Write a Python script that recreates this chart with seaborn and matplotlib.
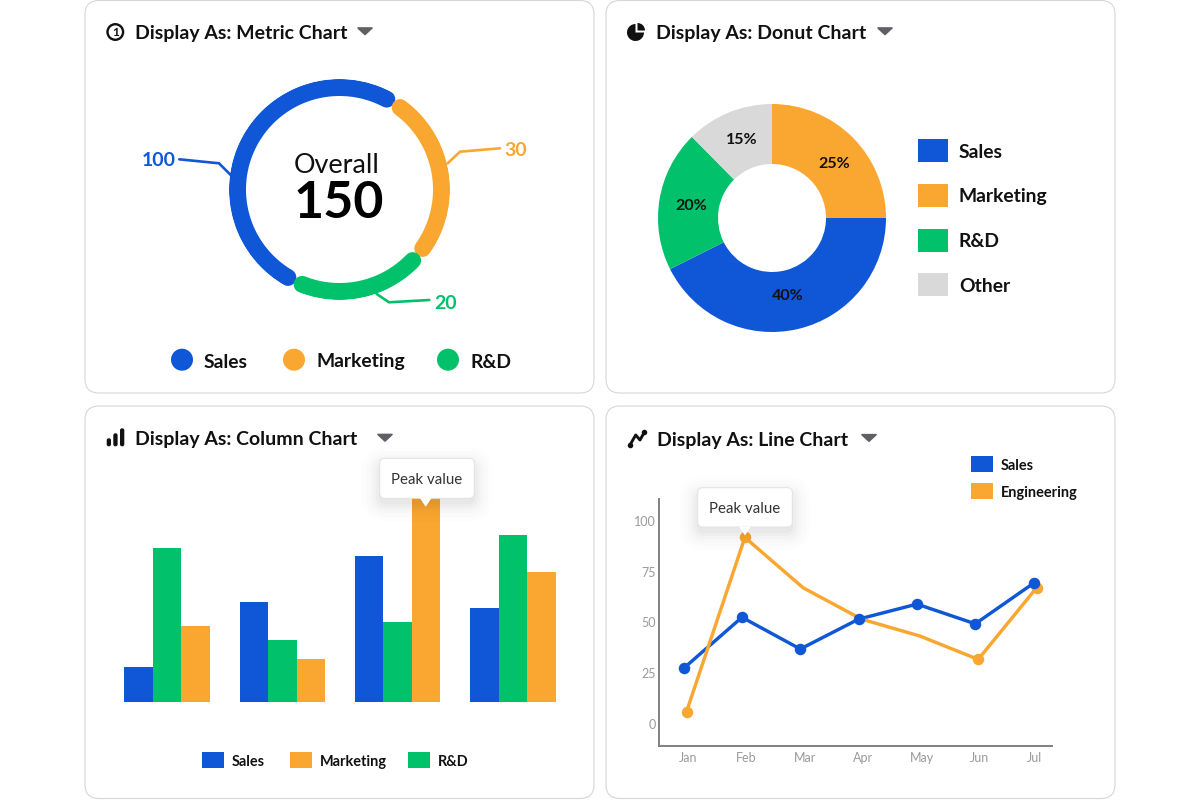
import numpy as np
import pandas as pd
import seaborn as sns
import matplotlib.pyplot as plt
from matplotlib.patches import FancyBboxPatch, Polygon, Rectangle, Circle, Wedge

W, H = 1200, 800
BLUE = "#0F57D6"
ORANGE = "#FAA731"
GREEN = "#02C16B"
GREY = "#D9D9D9"
INK = "#111111"

# metric ring
ring_names = ["Sales", "Marketing", "R&D"]
ring_values = [100, 30, 20]
ring_sweep = [177.2, 88.8, 67.3]

# donut
donut_names = ["Marketing", "Sales", "R&D", "Other"]
donut_slices = [25, 42.6, 20, 12.4]
donut_pct = [25, 40, 20, 15]
legend_names = ["Sales", "Marketing", "R&D", "Other"]

# columns
col_groups = ["A", "B", "C", "D"]
col_sales = [17.0, 47.6, 69.8, 44.9]
col_rd = [73.3, 29.7, 38.4, 79.7]
col_marketing = [36.3, 20.6, 100.0, 61.9]

# lines
months = ["Jan", "Feb", "Mar", "Apr", "May", "Jun", "Jul"]
line_sales = [27.4, 52.5, 36.9, 51.6, 59.0, 49.3, 69.3]
line_eng = [6.1, 91.8, 67.0, 51.6, 43.3, 31.8, 67.0]
y_ticks = [0, 25, 50, 75, 100]

sns.set_theme(style="white")
plt.rcParams["font.family"] = ["Lato", "DejaVu Sans"]

fig = plt.figure(figsize=(12, 8), dpi=100, facecolor="white")


def px_axes(l, t, r, b, **kw):
    return fig.add_axes([l / W, 1 - b / H, (r - l) / W, (b - t) / H], **kw)


def overlay(z):
    ax = fig.add_axes([0, 0, 1, 1], zorder=z)
    ax.set_xlim(0, W)
    ax.set_ylim(H, 0)
    ax.axis("off")
    ax.patch.set_alpha(0)
    return ax


def px(size):
    # font size in pixels to points
    return size * 0.72


bg = overlay(0)
fg = overlay(10)


def label(x, y, txt, size, **kw):
    # Lato sits a bit high with va=center
    kw.setdefault("color", INK)
    kw.setdefault("va", "center")
    fg.text(x, y + 1.5, txt, fontsize=px(size), **kw)


# cards
for l, t in [(85, 0.5), (606, 0.5), (85, 406), (606, 406)]:
    bg.add_patch(FancyBboxPatch((l, t), 509, 392.5, boxstyle="round,pad=0,rounding_size=14",
                                fc="white", ec="#D6D6D6", lw=0.8))

# headers
titles = [
    ("Display As: Metric Chart", 135, 32, 357),
    ("Display As: Donut Chart", 656, 32, 877),
    ("Display As: Column Chart", 135, 438.5, 377),
    ("Display As: Line Chart", 657, 438.7, 861),
]
for txt, x, y, tri in titles:
    label(x, y, txt, 19.5, fontweight="bold", ha="left")
    dy = y - 0.5
    fg.add_patch(Polygon([(tri + 1, dy - 3.5), (tri + 15, dy - 3.5), (tri + 8, dy + 3)], closed=True,
                         fc="#5F5F66", ec="#5F5F66", lw=1.2, joinstyle="round"))

# header icons
fg.add_patch(Circle((115.3, 32), 7.8, fc="white", ec=INK, lw=1.7))
fg.text(115.3, 32.5, "1", fontsize=px(12), fontweight="bold", color=INK, ha="center", va="center")
fg.add_patch(Wedge((635.5, 32.5), 8.5, 0, 270, fc=INK, ec="none"))
fg.add_patch(Wedge((637.5, 30.5), 7.5, 270, 360, fc=INK, ec="none"))
for x, top in [(106.7, 438.3), (113.3, 433.3), (120, 428.3)]:
    fg.add_patch(FancyBboxPatch((x, top), 4.3, 446.3 - top, boxstyle="round,pad=0,rounding_size=2",
                                fc=INK, ec="none"))
fg.plot([630, 635.7, 640, 644.3], [445, 435, 440, 432.3], color=INK, lw=2.1, solid_capstyle="round")
fg.scatter([630, 644.3], [445, 432.3], s=16, color=INK, lw=0)

# metric ring
ring_colors = [BLUE, ORANGE, GREEN]
ax_ring = px_axes(229, 79, 450, 300, projection="polar")
ax_ring.set_theta_zero_location("N")
ax_ring.set_theta_direction(-1)
start = 210.4
gap = 8.9
for sweep, c in zip(ring_sweep, ring_colors):
    th = np.radians(np.linspace(start, start + sweep, 120))
    ax_ring.plot(th, np.full(120, 102.0), color=c, lw=px(17), solid_capstyle="round")
    start += sweep + gap
ax_ring.set_rlim(0, 110.5)
ax_ring.axis("off")
ax_ring.patch.set_alpha(0)

label(337, 164, "Overall", 27, ha="center")
label(338.6, 201.5, "150", 52, fontweight="bold", color="black", ha="center")

leaders = [
    ([179.3, 219, 230.7], [159.3, 163.3, 175], (158.3, 159.3)),
    ([500, 460, 447.7], [148.3, 151.7, 163.3], (516, 148.7)),
    ([429.3, 389, 376.7], [300, 302.3, 294], (445.7, 301.7)),
]
for (lx, ly, pos), c, v in zip(leaders, ring_colors, ring_values):
    fg.plot(lx, ly, color=c, lw=1.9, solid_joinstyle="miter")
    label(pos[0], pos[1], str(v), 19.5, color=c, fontweight="bold", ha="center")

for cx, tx, name, c in zip([182, 294, 448], [204, 316.7, 470.7], ring_names, ring_colors):
    bg.add_patch(Circle((cx, 359.7), 11, fc=c, ec="none"))
    label(tx, 360.5, name, 19.3, fontweight="bold")

# donut
donut_colors = [ORANGE, BLUE, GREEN, GREY]
ax_donut = px_axes(658, 104, 886, 332)
ax_donut.pie(donut_slices, colors=donut_colors, startangle=90, counterclock=False,
             wedgeprops={"width": 60 / 114, "linewidth": 0})
ax_donut.set_xlim(-1, 1)
ax_donut.set_ylim(-1, 1)
for (x, y), v in zip([(834, 163), (788, 294), (691, 204), (742, 139)], donut_pct):
    label(x, y, f"{v}%", 16, fontweight="bold", ha="center")
for i, (name, c) in enumerate(zip(legend_names, [BLUE, ORANGE, GREEN, GREY])):
    yc = 150.5 + i * 44.8
    bg.add_patch(Rectangle((918, yc - 11.5), 30, 23, fc=c, ec="none"))
    label(959, yc, name, 19.3, fontweight="bold")

# columns
col_df = pd.DataFrame({
    "group": col_groups * 3,
    "dept": ["Sales"] * 4 + ["R&D"] * 4 + ["Marketing"] * 4,
    "value": col_sales + col_rd + col_marketing,
})
ax_col = px_axes(109.5, 492.3, 570.6, 702.3)
sns.barplot(data=col_df, x="group", y="value", hue="dept", hue_order=["Sales", "R&D", "Marketing"],
            palette={"Sales": BLUE, "R&D": GREEN, "Marketing": ORANGE}, width=0.7415, gap=0,
            saturation=1, legend=False, linewidth=0, ax=ax_col)
ax_col.set_xlim(-0.5, 3.5)
ax_col.set_ylim(0, 100)
ax_col.axis("off")
ax_col.patch.set_alpha(0)
for sx, tx, name, c in zip([202.3, 290.3, 408.3], [232, 320.3, 438.3], ["Sales", "Marketing", "R&D"],
                           [BLUE, ORANGE, GREEN]):
    bg.add_patch(Rectangle((sx, 752), 21.7, 16.3, fc=c, ec="none"))
    label(tx, 760.5, name, 14.5, fontweight="bold")

# lines
ax_line = px_axes(659.3, 499, 1051.7, 746)
idx = np.arange(len(months))
sns.lineplot(x=idx - 0.08, y=line_sales, color=BLUE, lw=px(3.4), errorbar=None, ax=ax_line, zorder=2)
sns.lineplot(x=idx - 0.03, y=line_eng, color=ORANGE, lw=px(3.4), errorbar=None, marker="o", markersize=px(11.5),
             markeredgewidth=0, markevery=[0, 1, 5, 6], ax=ax_line, zorder=3)
sns.scatterplot(x=idx - 0.08, y=line_sales, color=BLUE, s=px(11.5) ** 2, linewidth=0, ax=ax_line, zorder=4)
ax_line.set_xlim(-0.497, 6.23)
ax_line.set_ylim(-10.8, 110.7)
ax_line.set_xticks([0, 1, 2, 3, 4, 5, 5.93], months)
ax_line.set_yticks(y_ticks)
ax_line.tick_params(length=0, labelsize=px(12.5), labelcolor="#9A9A9A", pad=2.5)
ax_line.tick_params(axis="x", pad=4.5)
sns.despine(ax=ax_line)
for s in ["left", "bottom"]:
    ax_line.spines[s].set_color("#808080")
    ax_line.spines[s].set_linewidth(1.4)
ax_line.patch.set_alpha(0)
for y, name, c in zip([456, 482.8], ["Sales", "Engineering"], [BLUE, ORANGE]):
    bg.add_patch(Rectangle((971, y), 21.7, 16.4, fc=c, ec="none"))
    label(1000.7, y + 9, name, 14.5, fontweight="bold")


# tooltips
def tooltip(l, t, r, b, tip):
    for grow, alpha in zip([20, 16, 12, 9, 6, 3], [0.008, 0.01, 0.012, 0.016, 0.02, 0.024]):
        fg.add_patch(FancyBboxPatch((l - grow + 2, t - grow + 9), r - l + 2 * grow - 4, b - t + 2 * grow - 6,
                                    boxstyle=f"round,pad=0,rounding_size={grow + 4}",
                                    fc="black", ec="none", alpha=alpha))
    fg.add_patch(FancyBboxPatch((l, t), r - l, b - t, boxstyle="round,pad=0,rounding_size=5",
                                fc="white", ec="#E2E2E2", lw=0.7))
    fg.add_patch(Polygon([(tip - 6, b - 0.5), (tip + 6, b - 0.5), (tip, b + 8.5)], closed=True, fc="white", ec="none"))
    label((l + r) / 2, (t + b) / 2, "Peak value", 15, color="#333333", ha="center")


tooltip(379.7, 458.3, 474.3, 498.3, 425.7)
tooltip(697.7, 487.7, 792.3, 527, 745)

fig.savefig("out.png", dpi=100)
